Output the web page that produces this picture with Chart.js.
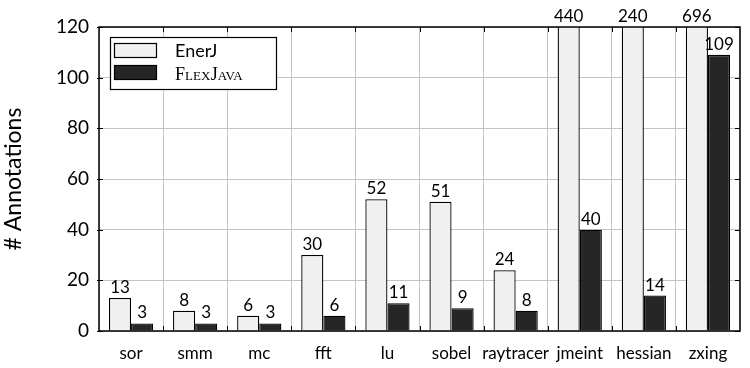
<!DOCTYPE html>
<html>
<head>
<meta charset="utf-8">
<script src="https://cdn.jsdelivr.net/npm/chart.js@4"></script>
<style>
  html, body { margin: 0; padding: 0; background: #fff; }
  #wrap { width: 750px; height: 368px; position: relative; }
</style>
</head>
<body>
<div id="wrap"><canvas id="chart"></canvas></div>
<script>
// --- data ---
const benchmarks = ['sor', 'smm', 'mc', 'fft', 'lu', 'sobel', 'raytracer', 'jmeint', 'hessian', 'zxing'];
const enerjCounts = [13, 8, 6, 30, 52, 51, 24, 440, 240, 696];
const flexjavaCounts = [3, 3, 3, 6, 11, 9, 8, 40, 14, 109];
const yTicks = [0, 20, 40, 60, 80, 100, 120];

const FONT = 'Lato, "Liberation Sans", sans-serif';

// value labels above each bar (clipped bars get their label above the frame)
const valueLabels = {
    id: 'valueLabels',
    afterDatasetsDraw(chart) {
        const { ctx, chartArea } = chart;
        ctx.save();
        ctx.font = '17px ' + FONT;
        ctx.fillStyle = '#000';
        ctx.textAlign = 'center';
        ctx.textBaseline = 'alphabetic';
        chart.data.datasets.forEach((ds, i) => {
            chart.getDatasetMeta(i).data.forEach((bar, j) => {
                const top = Math.max(bar.y, chartArea.top);
                ctx.fillText(String(ds.data[j]), bar.x, top - 5);
            });
        });
        ctx.restore();
    }
};

// frame, inward ticks and the legend box
const frame = {
    id: 'frame',
    afterDraw(chart) {
        const { ctx, chartArea: a, scales } = chart;
        ctx.save();
        ctx.strokeStyle = '#000';
        ctx.lineWidth = 1.5;
        ctx.strokeRect(a.left, a.top, a.right - a.left, a.bottom - a.top);

        ctx.lineWidth = 1;
        ctx.beginPath();
        // x ticks at category boundaries
        const xs = scales.x;
        for (let i = 1; i < benchmarks.length; i++) {
            const x = Math.round((xs.getPixelForValue(i - 1) + xs.getPixelForValue(i)) / 2) + 0.5;
            ctx.moveTo(x, a.bottom); ctx.lineTo(x, a.bottom - 5);
            ctx.moveTo(x, a.top); ctx.lineTo(x, a.top + 5);
        }
        // y ticks left and right
        yTicks.forEach(v => {
            const y = Math.round(scales.y.getPixelForValue(v)) + 0.5;
            ctx.moveTo(a.left - 2, y); ctx.lineTo(a.left + 4, y);
            ctx.moveTo(a.right, y); ctx.lineTo(a.right - 5, y);
        });
        ctx.stroke();

        // legend
        ctx.fillStyle = '#fff';
        ctx.fillRect(110, 37, 166, 52);
        ctx.lineWidth = 1.2;
        ctx.strokeRect(110.5, 37.5, 166, 52);
        ctx.fillStyle = '#f0f0f0';
        ctx.fillRect(114.5, 43.5, 42, 14);
        ctx.strokeRect(114.5, 43.5, 42, 14);
        ctx.fillStyle = '#262626';
        ctx.fillRect(114.5, 65.5, 42, 14);
        ctx.strokeRect(114.5, 65.5, 42, 14);

        ctx.fillStyle = '#000';
        ctx.textBaseline = 'alphabetic';
        ctx.textAlign = 'left';
        ctx.font = '18px ' + FONT;
        ctx.fillText('EnerJ', 175, 57);
        // small caps "FlexJava"
        let x = 175;
        const parts = [['F', 18], ['LEX', 13], ['J', 18], ['AVA', 13]];
        parts.forEach(([t, s]) => {
            ctx.font = s + 'px "Liberation Serif", "DejaVu Serif", serif';
            ctx.fillText(t, x, 80);
            x += ctx.measureText(t).width + (s < 18 ? 0.5 : 0);
        });
        ctx.restore();
    }
};

new Chart(document.getElementById('chart'), {
    type: 'bar',
    data: {
        labels: benchmarks,
        datasets: [
            { label: 'EnerJ', data: enerjCounts, backgroundColor: '#f0f0f0', borderColor: '#000', borderWidth: 1.3 },
            { label: 'FlexJava', data: flexjavaCounts, backgroundColor: '#262626', borderColor: '#000', borderWidth: 1.3 }
        ]
    },
    options: {
        responsive: true,
        maintainAspectRatio: false,
        animation: false,
        datasets: { bar: { categoryPercentage: 0.69, barPercentage: 1.0 } },
        layout: { padding: { top: 27, right: 10, left: 0, bottom: 2 } },
        plugins: { legend: { display: false }, tooltip: { enabled: false } },
        scales: {
            x: {
                grid: { color: '#c4c4c4', offset: true, drawTicks: false },
                border: { display: false },
                ticks: { color: '#000', font: { family: FONT, size: 17 }, padding: 12, maxRotation: 0, autoSkip: false },
                afterFit: s => { s.height = 35; }
            },
            y: {
                min: 0, max: 120,
                afterBuildTicks: s => { s.ticks = yTicks.map(v => ({ value: v })); },
                grid: { color: '#c4c4c4', drawTicks: false },
                border: { display: false },
                ticks: { color: '#000', font: { family: FONT, size: 19 }, padding: 10 },
                title: { display: true, text: '# Annotations', color: '#000', font: { family: FONT, size: 23 }, padding: 0 },
                afterFit: s => { s.width = 99; }
            }
        }
    },
    plugins: [valueLabels, frame]
});
</script>
</body>
</html>
